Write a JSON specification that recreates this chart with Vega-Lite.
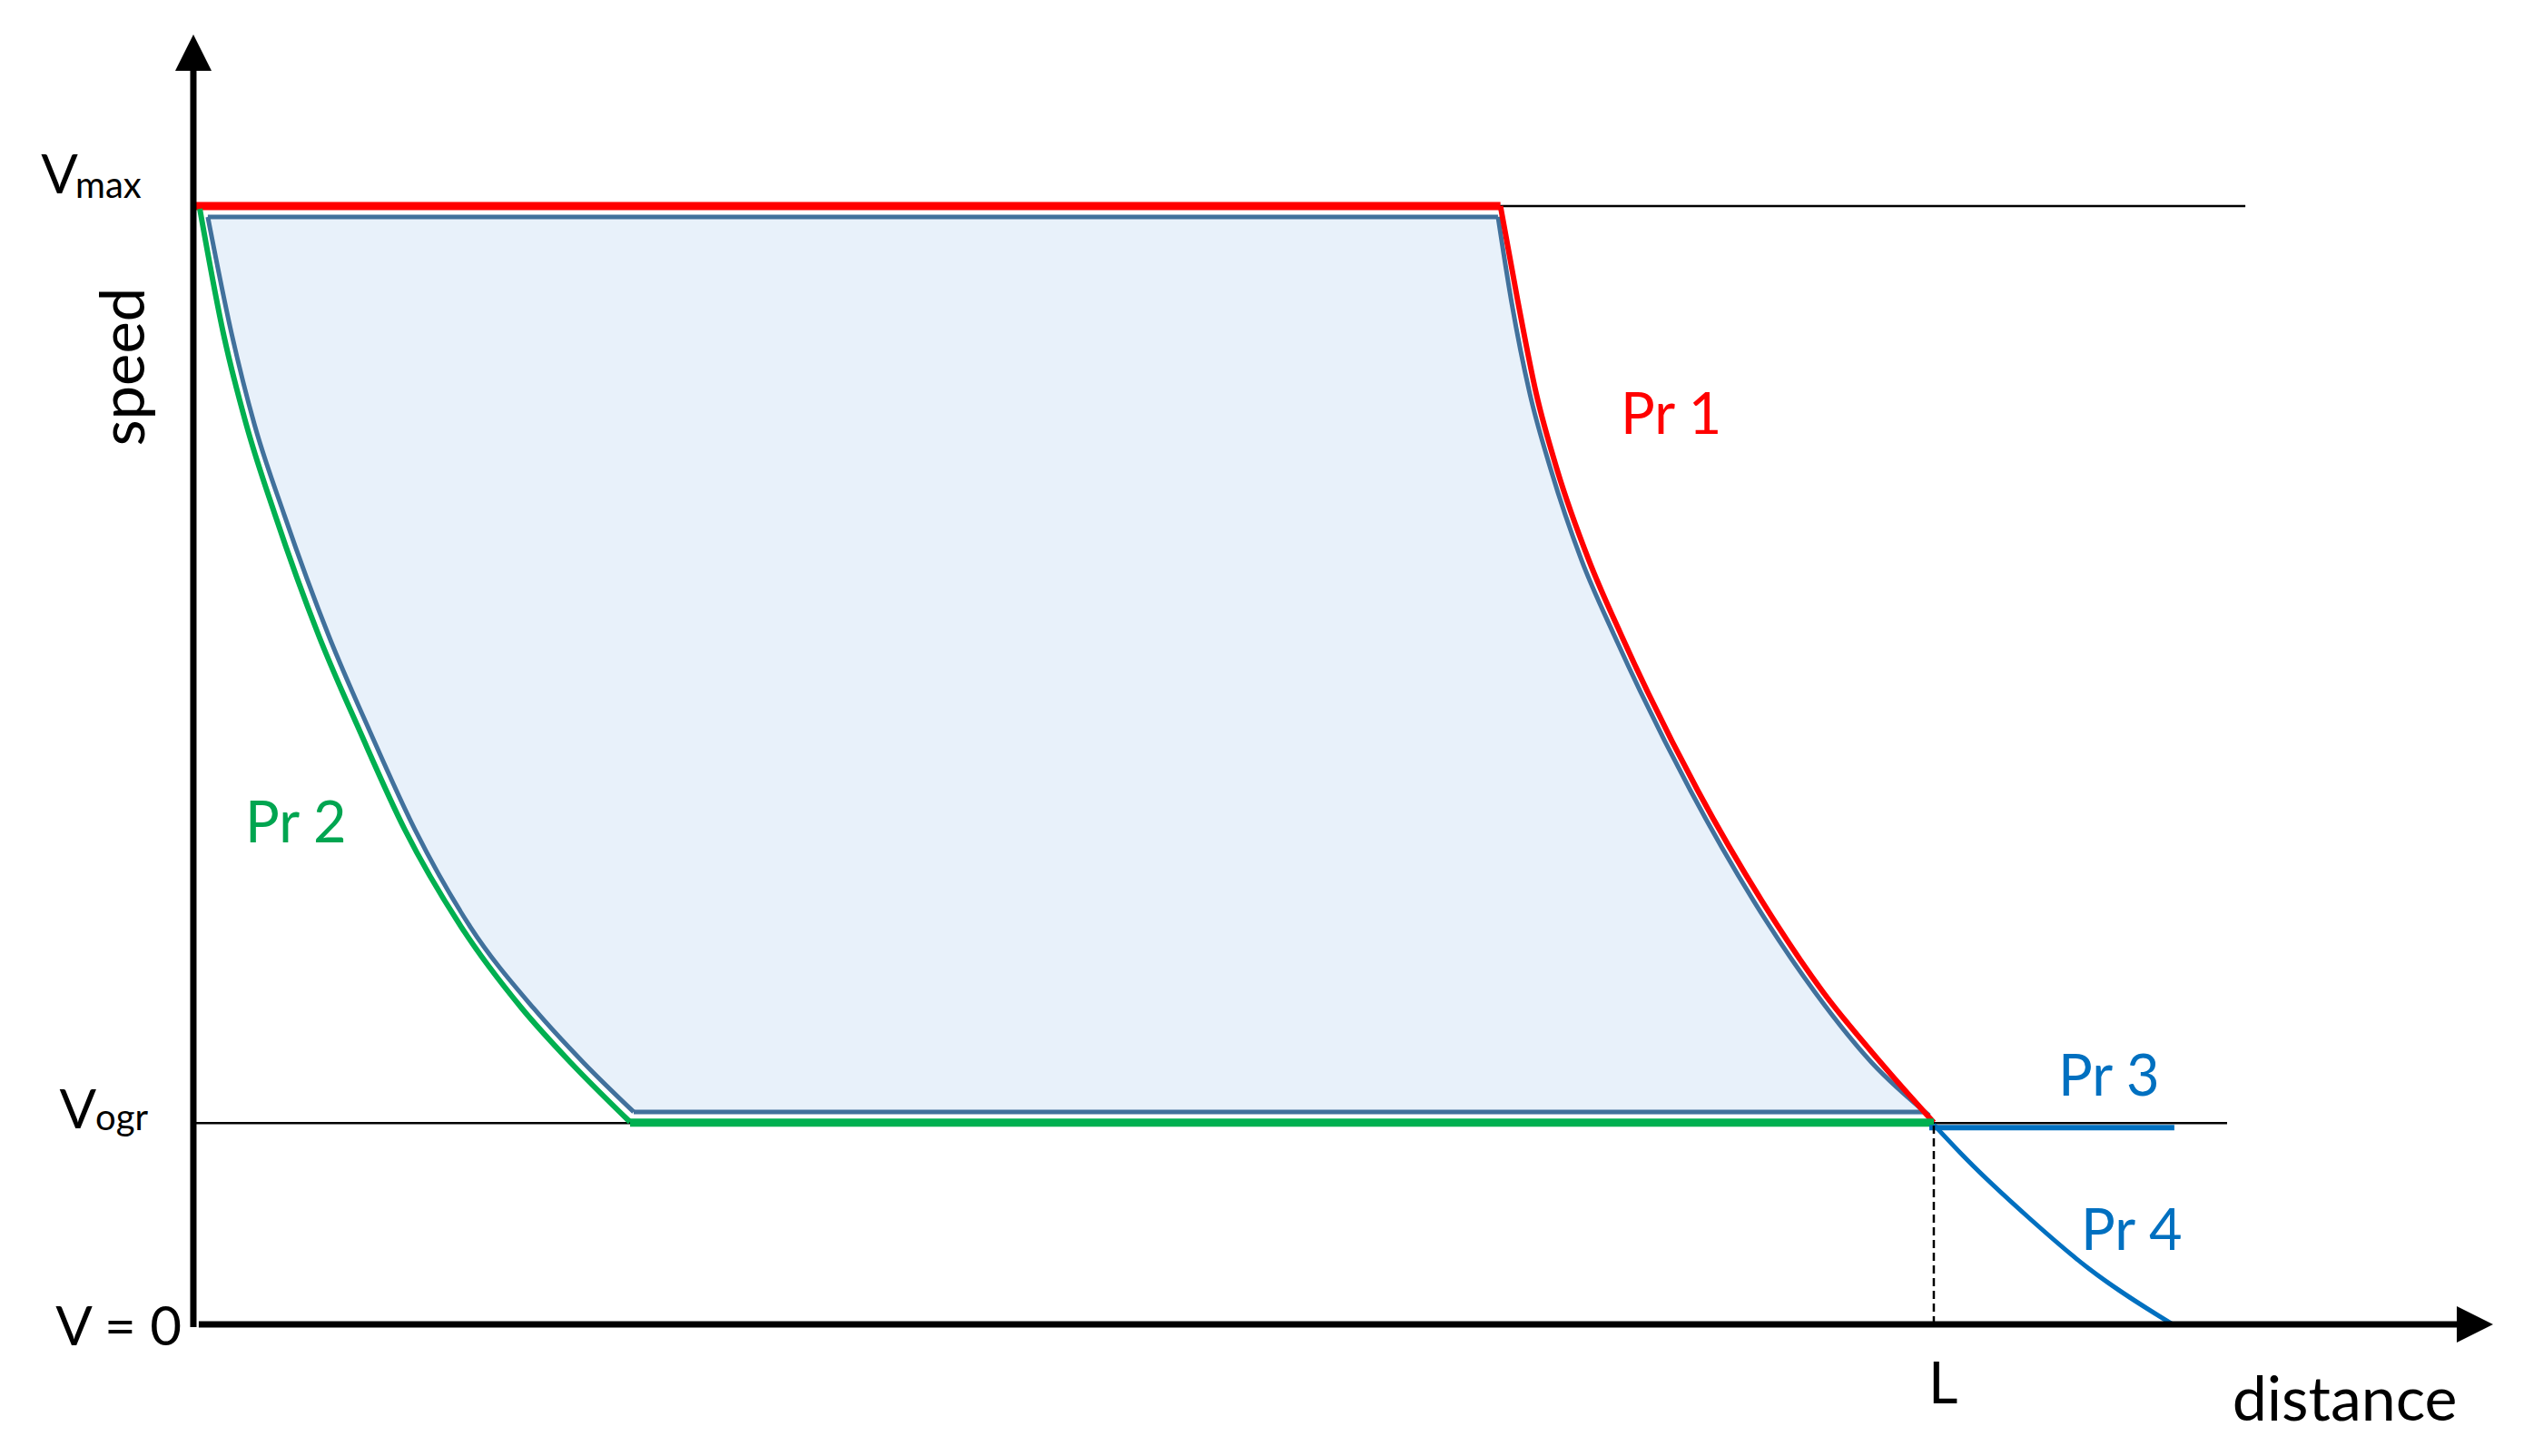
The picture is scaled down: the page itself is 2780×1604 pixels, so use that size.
{
  "$schema": "https://vega.github.io/schema/vega-lite/v6.json",
  "autosize": {"type": "fit", "contains": "padding"},
  "width": 2780,
  "height": 1604,
  "padding": 0,
  "background": "white",
  "config": {"view": {"stroke": null}},
  "datasets": {
    "region": [
      {"i": 0, "dist": 0.83, "speed": 99.03},
      {"i": 1, "dist": 74.96, "speed": 99.03},
      {"i": 2, "dist": 75.74, "speed": 91.40},
      {"i": 3, "dist": 76.78, "speed": 83.28},
      {"i": 4, "dist": 77.99, "speed": 76.46},
      {"i": 5, "dist": 79.76, "speed": 68.34},
      {"i": 6, "dist": 81.64, "speed": 61.61},
      {"i": 7, "dist": 86.02, "speed": 47.73},
      {"i": 8, "dist": 89.67, "speed": 37.82},
      {"i": 9, "dist": 93.17, "speed": 29.71},
      {"i": 10, "dist": 96.45, "speed": 23.38},
      {"i": 11, "dist": 99.74, "speed": 18.67},
      {"i": 12, "dist": 25.30, "speed": 19.0},
      {"i": 13, "dist": 22.43, "speed": 23.38},
      {"i": 14, "dist": 19.56, "speed": 28.25},
      {"i": 15, "dist": 15.91, "speed": 35.55},
      {"i": 16, "dist": 12.73, "speed": 44.24},
      {"i": 17, "dist": 10.17, "speed": 52.92},
      {"i": 18, "dist": 7.77, "speed": 61.61},
      {"i": 19, "dist": 5.22, "speed": 72.40},
      {"i": 20, "dist": 3.50, "speed": 80.52},
      {"i": 21, "dist": 2.19, "speed": 88.64}
    ],
    "curves": [
      {"s": "bl", "dist": 0.83, "speed": 99.03},
      {"s": "bl", "dist": 2.19, "speed": 88.64},
      {"s": "bl", "dist": 3.50, "speed": 80.52},
      {"s": "bl", "dist": 5.22, "speed": 72.40},
      {"s": "bl", "dist": 7.77, "speed": 61.61},
      {"s": "bl", "dist": 10.17, "speed": 52.92},
      {"s": "bl", "dist": 12.73, "speed": 44.24},
      {"s": "bl", "dist": 15.91, "speed": 35.55},
      {"s": "bl", "dist": 19.56, "speed": 28.25},
      {"s": "bl", "dist": 22.43, "speed": 23.38},
      {"s": "bl", "dist": 25.30, "speed": 19.0},
      {"s": "br", "dist": 74.96, "speed": 99.03},
      {"s": "br", "dist": 75.74, "speed": 91.40},
      {"s": "br", "dist": 76.78, "speed": 83.28},
      {"s": "br", "dist": 77.99, "speed": 76.46},
      {"s": "br", "dist": 79.76, "speed": 68.34},
      {"s": "br", "dist": 81.64, "speed": 61.61},
      {"s": "br", "dist": 86.02, "speed": 47.73},
      {"s": "br", "dist": 89.67, "speed": 37.82},
      {"s": "br", "dist": 93.17, "speed": 29.71},
      {"s": "br", "dist": 96.45, "speed": 23.38},
      {"s": "br", "dist": 99.74, "speed": 18.67},
      {"s": "pr1", "dist": 75.10, "speed": 100},
      {"s": "pr1", "dist": 76.11, "speed": 91.40},
      {"s": "pr1", "dist": 77.15, "speed": 83.28},
      {"s": "pr1", "dist": 78.35, "speed": 76.46},
      {"s": "pr1", "dist": 80.18, "speed": 68.34},
      {"s": "pr1", "dist": 82.05, "speed": 61.61},
      {"s": "pr1", "dist": 86.44, "speed": 47.73},
      {"s": "pr1", "dist": 90.14, "speed": 37.82},
      {"s": "pr1", "dist": 93.64, "speed": 29.71},
      {"s": "pr1", "dist": 96.97, "speed": 23.38},
      {"s": "pr1", "dist": 100.0, "speed": 18.05},
      {"s": "pr2", "dist": 0.37, "speed": 99.76},
      {"s": "pr2", "dist": 1.72, "speed": 88.64},
      {"s": "pr2", "dist": 3.03, "speed": 80.52},
      {"s": "pr2", "dist": 4.69, "speed": 72.40},
      {"s": "pr2", "dist": 7.20, "speed": 61.61},
      {"s": "pr2", "dist": 9.60, "speed": 52.92},
      {"s": "pr2", "dist": 12.15, "speed": 44.24},
      {"s": "pr2", "dist": 15.39, "speed": 35.55},
      {"s": "pr2", "dist": 18.88, "speed": 28.25},
      {"s": "pr2", "dist": 21.70, "speed": 23.38},
      {"s": "pr2", "dist": 25.09, "speed": 18.1},
      {"s": "pr4", "dist": 100.0, "speed": 17.86},
      {"s": "pr4", "dist": 101.93, "speed": 14.69},
      {"s": "pr4", "dist": 105.37, "speed": 9.66},
      {"s": "pr4", "dist": 108.87, "speed": 5.03},
      {"s": "pr4", "dist": 113.72, "speed": 0}
    ],
    "segs": [
      {"s": "vmaxref", "dist": 75.07, "dist2": 117.9, "speed": 100},
      {"s": "vogrref", "dist": 0.05, "dist2": 116.85, "speed": 18.0},
      {"s": "btop", "dist": 0.83, "dist2": 74.96, "speed": 99.03},
      {"s": "bbot", "dist": 25.30, "dist2": 99.5, "speed": 19.0},
      {"s": "pr1top", "dist": 0.1, "dist2": 75.10, "speed": 100},
      {"s": "pr2bot", "dist": 25.09, "dist2": 100.0, "speed": 18.05},
      {"s": "pr3", "dist": 99.74, "dist2": 113.82, "speed": 17.6},
      {"s": "xaxis", "dist": 0.31, "dist2": 130.3, "speed": 0}
    ],
    "vsegs": [
      {"s": "yaxis", "dist": 0, "speed": -0.25, "speed2": 112.3},
      {"s": "L", "dist": 100.0, "speed": 0, "speed2": 17.9}
    ],
    "arrows": [
      {"s": "up", "dist": 0, "speed": 113.72},
      {"s": "right", "dist": 131.09, "speed": 0}
    ],
    "labels": [
      {"s": "pr1", "text": "Pr 1", "dist": 82.0, "speed": 79.63},
      {"s": "pr2", "text": "Pr 2", "dist": 2.97, "speed": 43.10},
      {"s": "pr3", "text": "Pr 3", "dist": 107.15, "speed": 20.45},
      {"s": "pr4", "text": "Pr 4", "dist": 108.45, "speed": 6.66},
      {"s": "L", "text": "L", "dist": 99.69, "speed": -7.06},
      {"s": "distance", "text": "distance", "dist": 117.15, "speed": -8.60},
      {"s": "V0", "text": "V = 0", "dist": -0.68, "speed": -1.87},
      {"s": "Vmax", "text": "V", "dist": -6.63, "speed": 101.14},
      {"s": "max", "text": "max", "dist": -6.78, "speed": 100.73},
      {"s": "Vogr", "text": "V", "dist": -5.58, "speed": 17.53},
      {"s": "ogr", "text": "ogr", "dist": -5.63, "speed": 17.37},
      {"s": "speed", "text": "speed", "dist": -2.82, "speed": 85.63}
    ]
  },
  "encoding": {
    "x": {"field": "dist", "type": "quantitative", "scale": {"domain": [-11.11, 133.91], "nice": false, "zero": false}, "axis": null},
    "y": {"field": "speed", "type": "quantitative", "scale": {"domain": [-11.77, 118.43], "nice": false, "zero": false}, "axis": null}
  },
  "layer": [
    {
      "data": {"name": "region"},
      "mark": {"type": "line", "fill": "#E8F1FA", "strokeWidth": 0, "stroke": "#E8F1FA", "interpolate": "linear"},
      "encoding": {"order": {"field": "i", "type": "quantitative"}}
    },
    {
      "data": {"name": "curves"},
      "transform": [{"filter": "datum.s == 'bl' || datum.s == 'br'"}],
      "mark": {"type": "line", "color": "#41719C", "strokeWidth": 5, "interpolate": "monotone"},
      "encoding": {"detail": {"field": "s"}, "order": {"field": "dist", "type": "quantitative"}}
    },
    {
      "data": {"name": "segs"},
      "transform": [{"filter": "datum.s == 'btop' || datum.s == 'bbot'"}],
      "mark": {"type": "rule", "color": "#41719C", "strokeWidth": 5},
      "encoding": {"x2": {"field": "dist2"}}
    },
    {
      "data": {"name": "segs"},
      "transform": [{"filter": "datum.s == 'vmaxref' || datum.s == 'vogrref'"}],
      "mark": {"type": "rule", "color": "#000000", "strokeWidth": 2.5},
      "encoding": {"x2": {"field": "dist2"}}
    },
    {
      "data": {"name": "segs"},
      "transform": [{"filter": "datum.s == 'pr1top'"}],
      "mark": {"type": "rule", "color": "#FF0000", "strokeWidth": 9},
      "encoding": {"x2": {"field": "dist2"}}
    },
    {
      "data": {"name": "curves"},
      "transform": [{"filter": "datum.s == 'pr1'"}],
      "mark": {"type": "line", "color": "#FF0000", "strokeWidth": 6, "interpolate": "monotone"},
      "encoding": {"order": {"field": "dist", "type": "quantitative"}}
    },
    {
      "data": {"name": "curves"},
      "transform": [{"filter": "datum.s == 'pr2'"}],
      "mark": {"type": "line", "color": "#00B050", "strokeWidth": 6, "interpolate": "monotone"},
      "encoding": {"order": {"field": "dist", "type": "quantitative"}}
    },
    {
      "data": {"name": "segs"},
      "transform": [{"filter": "datum.s == 'pr2bot'"}],
      "mark": {"type": "rule", "color": "#00B050", "strokeWidth": 9},
      "encoding": {"x2": {"field": "dist2"}}
    },
    {
      "data": {"name": "segs"},
      "transform": [{"filter": "datum.s == 'pr3'"}],
      "mark": {"type": "rule", "color": "#0070C0", "strokeWidth": 6},
      "encoding": {"x2": {"field": "dist2"}}
    },
    {
      "data": {"name": "curves"},
      "transform": [{"filter": "datum.s == 'pr4'"}],
      "mark": {"type": "line", "color": "#0070C0", "strokeWidth": 5, "interpolate": "monotone"},
      "encoding": {"order": {"field": "dist", "type": "quantitative"}}
    },
    {
      "data": {"name": "vsegs"},
      "transform": [{"filter": "datum.s == 'L'"}],
      "mark": {"type": "rule", "color": "#000000", "strokeWidth": 2.5, "strokeDash": [9, 5]},
      "encoding": {"y2": {"field": "speed2"}}
    },
    {
      "data": {"name": "segs"},
      "transform": [{"filter": "datum.s == 'xaxis'"}],
      "mark": {"type": "rule", "color": "#000000", "strokeWidth": 7},
      "encoding": {"x2": {"field": "dist2"}}
    },
    {
      "data": {"name": "vsegs"},
      "transform": [{"filter": "datum.s == 'yaxis'"}],
      "mark": {"type": "rule", "color": "#000000", "strokeWidth": 7},
      "encoding": {"y2": {"field": "speed2"}}
    },
    {
      "data": {"name": "arrows"},
      "transform": [{"filter": "datum.s == 'up'"}],
      "mark": {"type": "point", "shape": "M0,-1L1,1L-1,1Z", "size": 1600, "filled": true, "color": "#000000", "opacity": 1, "strokeWidth": 0}
    },
    {
      "data": {"name": "arrows"},
      "transform": [{"filter": "datum.s == 'right'"}],
      "mark": {"type": "point", "shape": "M1,0L-1,-1L-1,1Z", "size": 1600, "filled": true, "color": "#000000", "opacity": 1, "strokeWidth": 0}
    },
    {
      "data": {"name": "labels"},
      "transform": [{"filter": "datum.s == 'pr1'"}],
      "mark": {"type": "text", "align": "left", "baseline": "alphabetic", "font": "Lato", "fontSize": 63, "color": "#FF0000"},
      "encoding": {"text": {"field": "text"}}
    },
    {
      "data": {"name": "labels"},
      "transform": [{"filter": "datum.s == 'pr2'"}],
      "mark": {"type": "text", "align": "left", "baseline": "alphabetic", "font": "Lato", "fontSize": 63, "color": "#00A550"},
      "encoding": {"text": {"field": "text"}}
    },
    {
      "data": {"name": "labels"},
      "transform": [{"filter": "datum.s == 'pr3' || datum.s == 'pr4'"}],
      "mark": {"type": "text", "align": "left", "baseline": "alphabetic", "font": "Lato", "fontSize": 63, "color": "#0070C0"},
      "encoding": {"text": {"field": "text"}}
    },
    {
      "data": {"name": "labels"},
      "transform": [{"filter": "datum.s == 'L'"}],
      "mark": {"type": "text", "align": "left", "baseline": "alphabetic", "font": "Lato", "fontSize": 63, "color": "#000000"},
      "encoding": {"text": {"field": "text"}}
    },
    {
      "data": {"name": "labels"},
      "transform": [{"filter": "datum.s == 'distance'"}],
      "mark": {"type": "text", "align": "left", "baseline": "alphabetic", "font": "Lato", "fontSize": 68, "color": "#000000"},
      "encoding": {"text": {"field": "text"}}
    },
    {
      "data": {"name": "labels"},
      "transform": [{"filter": "datum.s == 'V0' || datum.s == 'Vmax' || datum.s == 'Vogr'"}],
      "mark": {"type": "text", "align": "right", "baseline": "alphabetic", "font": "Lato", "fontSize": 60, "color": "#000000"},
      "encoding": {"text": {"field": "text"}}
    },
    {
      "data": {"name": "labels"},
      "transform": [{"filter": "datum.s == 'max' || datum.s == 'ogr'"}],
      "mark": {"type": "text", "align": "left", "baseline": "alphabetic", "font": "Lato", "fontSize": 40, "color": "#000000"},
      "encoding": {"text": {"field": "text"}}
    },
    {
      "data": {"name": "labels"},
      "transform": [{"filter": "datum.s == 'speed'"}],
      "mark": {"type": "text", "align": "center", "baseline": "alphabetic", "angle": 270, "font": "Lato", "fontSize": 67, "color": "#000000"},
      "encoding": {"text": {"field": "text"}}
    }
  ]
}
